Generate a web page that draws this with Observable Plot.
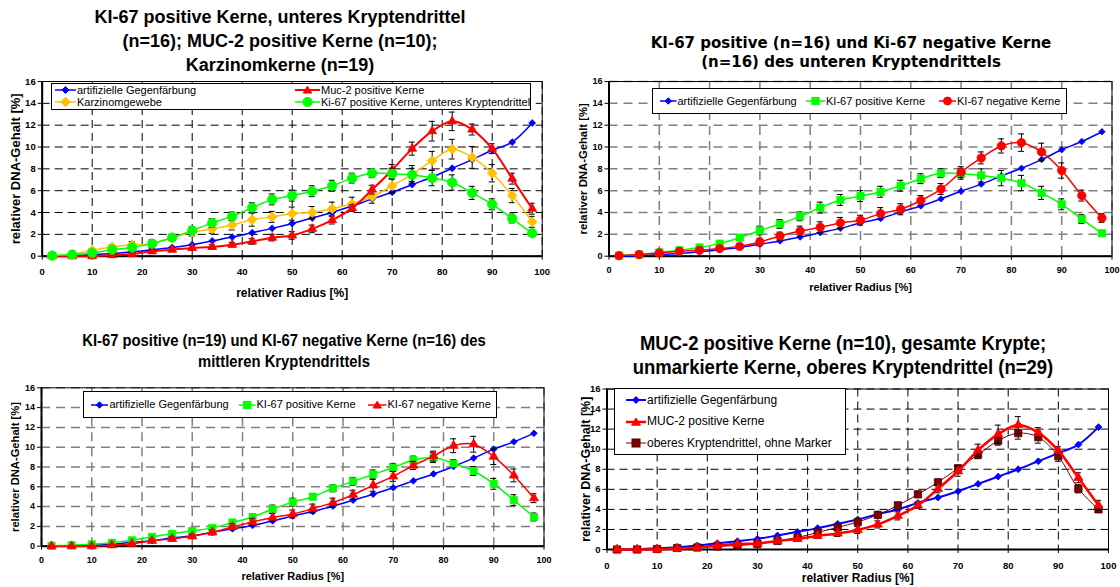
<!DOCTYPE html>
<html><head><meta charset="utf-8">
<script src="https://cdn.jsdelivr.net/npm/d3@7"></script>
<script src="https://cdn.jsdelivr.net/npm/@observablehq/plot@0.6"></script>
<style>
html,body{margin:0;padding:0;background:#fff;}
#root{position:relative;width:1120px;height:587px;overflow:hidden;font-family:"Liberation Sans",Arial,sans-serif;background:#fff;}
.panel{position:absolute;}
.tline{position:absolute;white-space:nowrap;font-weight:bold;color:#000;transform-origin:center;}
.legend{position:absolute;background:#fff;border:1px solid #000;box-sizing:border-box;}
.legend .item{position:absolute;white-space:nowrap;color:#000;}
.legend svg{position:absolute;overflow:visible;}
</style></head><body><div id="root"></div>
<script>
// ---------- data ----------
const radius = [2,6,10,14,18,22,26,30,34,38,42,46,50,54,58,62,66,70,74,78,82,86,90,94,98];
const xTicks = [0,10,20,30,40,50,60,70,80,90,100];
const yTicks = [0,2,4,6,8,10,12,14,16];
const xTitle = "relativer Radius [%]";
const yTitle = "relativer DNA-Gehalt [%]";

// panel 1
const gegen1 = [0,0.05,0.15,0.25,0.4,0.6,0.8,1.05,1.4,1.75,2.15,2.55,3.0,3.5,4.0,4.6,5.25,5.85,6.55,7.25,8.05,8.85,9.7,10.45,12.2];
const karzinom = [0.05,0.15,0.55,0.85,1.05,1.15,1.7,2.2,2.5,2.85,3.35,3.6,3.9,4.0,4.35,4.8,5.45,6.45,7.5,8.75,9.8,9.05,7.6,5.55,3.15];
const karzinomErr = [0.05,0.1,0.15,0.2,0.3,0.35,0.3,0.35,0.4,0.45,0.6,0.5,0.6,0.55,0.6,0.6,0.6,0.65,0.8,0.85,0.9,1.0,0.8,0.65,0.5];
const muc2 = [0,0,0,0.1,0.2,0.45,0.6,0.75,0.85,1.05,1.35,1.7,1.9,2.5,3.3,4.4,6.1,7.9,9.85,11.45,12.35,11.6,9.85,7.1,4.35];
const muc2Err = [0.05,0.05,0.1,0.1,0.15,0.2,0.2,0.2,0.2,0.2,0.25,0.3,0.35,0.35,0.35,0.3,0.4,0.5,0.6,0.9,0.85,0.5,0.45,0.5,0.5];
const ki67posUnten1 = [0.05,0.15,0.3,0.6,0.8,1.15,1.7,2.35,3.05,3.65,4.45,5.2,5.55,5.95,6.45,7.15,7.6,7.55,7.45,7.15,6.75,5.8,4.75,3.45,2.1];
const ki67posUnten1Err = [0.05,0.05,0.1,0.1,0.15,0.2,0.25,0.35,0.4,0.4,0.45,0.5,0.5,0.5,0.5,0.45,0.4,0.5,0.6,0.7,0.7,0.6,0.5,0.4,0.2];

// panel 2
const gegen2 = [0,0.05,0.15,0.25,0.4,0.6,0.8,1.1,1.4,1.75,2.15,2.55,3.05,3.45,4.05,4.6,5.25,5.95,6.6,7.35,8.05,8.85,9.75,10.5,11.4];
const ki67posUnten2 = [0.05,0.15,0.35,0.55,0.8,1.15,1.7,2.35,2.95,3.65,4.45,5.15,5.5,5.9,6.45,7.1,7.6,7.55,7.4,7.15,6.7,5.8,4.75,3.4,2.1];
const ki67posUnten2Err = [0.05,0.05,0.1,0.1,0.15,0.2,0.25,0.4,0.4,0.4,0.5,0.5,0.5,0.5,0.5,0.45,0.4,0.5,0.6,0.7,0.7,0.6,0.5,0.4,0.2];
const ki67negUnten = [0.05,0.15,0.3,0.45,0.55,0.7,0.9,1.3,1.85,2.3,2.65,3.05,3.3,3.9,4.3,5.1,6.15,7.7,9.0,10.1,10.4,9.55,7.85,5.55,3.5];
const ki67negUntenErr = [0.05,0.05,0.1,0.1,0.15,0.2,0.25,0.35,0.35,0.45,0.5,0.5,0.45,0.55,0.5,0.45,0.5,0.5,0.55,0.65,0.8,0.8,0.7,0.5,0.4];

// panel 3
const gegen3 = [0,0.05,0.1,0.2,0.4,0.55,0.85,1.05,1.4,1.75,2.1,2.55,3.05,3.5,4.05,4.65,5.25,5.9,6.6,7.3,8.05,8.9,9.8,10.55,11.4];
const ki67posMitte = [0.05,0.1,0.2,0.35,0.6,0.95,1.25,1.55,1.85,2.4,2.95,3.75,4.45,5.0,5.85,6.55,7.25,7.95,8.7,8.95,8.35,7.6,6.3,4.65,2.95];
const ki67posMitteErr = [0.05,0.05,0.1,0.1,0.15,0.2,0.2,0.2,0.25,0.25,0.3,0.4,0.4,0.3,0.35,0.4,0.45,0.4,0.4,0.5,0.4,0.45,0.55,0.55,0.4];
const ki67negMitte = [0,0,0,0.1,0.25,0.55,0.75,1.0,1.4,1.95,2.45,2.9,3.25,3.8,4.4,5.2,6.15,7.05,8.15,9.1,10.15,10.3,9.05,7.15,4.85];
const ki67negMitteErr = [0.05,0.05,0.05,0.1,0.1,0.15,0.2,0.2,0.25,0.3,0.35,0.4,0.4,0.45,0.45,0.45,0.6,0.5,0.4,0.5,0.7,0.8,0.8,0.65,0.45];

// panel 4
const gegen4 = [0,0.03,0.13,0.23,0.4,0.63,0.83,1.06,1.4,1.76,2.13,2.56,2.99,3.52,3.99,4.65,5.18,5.81,6.54,7.27,8.0,8.8,9.6,10.46,12.2];
const muc2Gesamt = [0,0,0,0.1,0.2,0.4,0.55,0.6,0.85,1.05,1.35,1.6,1.95,2.5,3.35,4.4,6.05,7.8,9.9,11.5,12.4,11.65,9.85,7.15,4.4];
const muc2GesamtErr = [0.05,0.05,0.1,0.1,0.15,0.2,0.2,0.2,0.2,0.2,0.25,0.3,0.35,0.35,0.4,0.3,0.4,0.5,0.6,0.9,0.85,0.5,0.4,0.5,0.5];
const oberesOhne = [0,0,0.05,0.15,0.2,0.3,0.4,0.55,0.85,1.2,1.7,2.2,2.75,3.45,4.4,5.5,6.7,8.1,9.45,10.85,11.6,11.2,9.3,6.05,4.0];
const oberesOhneErr = [0.05,0.05,0.05,0.1,0.1,0.15,0.15,0.2,0.2,0.25,0.25,0.25,0.3,0.3,0.3,0.3,0.3,0.3,0.4,0.45,0.6,0.6,0.5,0.4,0.3];

// ---------- helpers ----------
const root = document.getElementById("root");
const FONT = '"Liberation Sans", Arial, sans-serif';

function rows(values, err) {
  return radius.map((x, i) => ({x, y: values[i], e: err ? err[i] : 0}));
}

function seriesMarks(s) {
  const d = rows(s.values, s.err);
  const m = [];
  if (s.err) {
    m.push(Plot.ruleX(d, {x: "x", y1: q => q.y - q.e, y2: q => q.y + q.e, stroke: "#000", strokeWidth: 1}));
    m.push(Plot.ruleY(d, {y: q => q.y + q.e, x1: q => q.x - 0.6, x2: q => q.x + 0.6, stroke: "#000", strokeWidth: 1}));
    m.push(Plot.ruleY(d, {y: q => q.y - q.e, x1: q => q.x - 0.6, x2: q => q.x + 0.6, stroke: "#000", strokeWidth: 1}));
  }
  m.push(Plot.line(d, {x: "x", y: "y", stroke: s.line || s.color, strokeWidth: s.width, curve: "catmull-rom"}));
  m.push(Plot.dot(d, {x: "x", y: "y", symbol: s.symbol, r: s.r, fill: s.color, stroke: s.edge || s.color, strokeWidth: 0.8}));
  return m;
}

function drawPanel(p) {
  const div = document.createElement("div");
  div.className = "panel";
  div.style.left = p.left + "px";
  div.style.top = p.top + "px";
  div.style.width = p.width + "px";
  div.style.height = p.height + "px";
  const marks = [
    Plot.ruleY(yTicks, {stroke: p.grid, strokeWidth: p.gridWidth, strokeDasharray: p.dash}),
    Plot.ruleX(xTicks, {stroke: p.grid, strokeWidth: p.gridWidth, strokeDasharray: p.dash}),
    Plot.frame({stroke: "#000", strokeWidth: 1}),
    Plot.ruleX([0], {stroke: "#000", strokeWidth: 2}),
    Plot.ruleY([0], {stroke: "#000", strokeWidth: 2}),
    Plot.text([xTitle], {text: d => d, frameAnchor: "bottom", textAnchor: "middle", lineAnchor: "middle", dy: p.xTitleDy, fontSize: p.xTitleSize, fontWeight: "bold", fill: "#000"}),
    Plot.text([yTitle], {text: d => d, frameAnchor: "left", textAnchor: "middle", lineAnchor: "middle", dx: p.yTitleDx, rotate: -90, fontSize: p.yTitleSize, fontWeight: "bold", fill: "#000"})
  ];
  for (const s of p.series) marks.push(...seriesMarks(s));
  const chart = Plot.plot({
    width: p.width, height: p.height,
    marginLeft: p.ml, marginRight: p.mr, marginTop: p.mt, marginBottom: p.mb,
    x: {domain: [0, 100], ticks: xTicks, tickSize: 4, tickPadding: p.xPad, label: null},
    y: {domain: [0, 16], ticks: yTicks, tickSize: 4, tickPadding: 2.5, label: null},
    style: {fontFamily: FONT, fontSize: p.tickSize + "px", fontWeight: "bold", background: "none", color: "#000", overflow: "visible"},
    marks
  });
  div.appendChild(chart);
  root.appendChild(div);
}

function swatch(item, w) {
  const c = item.color, cy = 6, cx = w / 2;
  let shape = "";
  const r = item.mr;
  if (item.symbol === "diamond2") shape = `<polygon points="${cx},${cy-r} ${cx+r},${cy} ${cx},${cy+r} ${cx-r},${cy}" fill="${c}" stroke="${item.edge||c}"/>`;
  else if (item.symbol === "triangle") shape = `<polygon points="${cx},${cy-r} ${cx+r*1.1},${cy+r*0.8} ${cx-r*1.1},${cy+r*0.8}" fill="${c}" stroke="${item.edge||c}"/>`;
  else if (item.symbol === "circle") shape = `<circle cx="${cx}" cy="${cy}" r="${r}" fill="${c}" stroke="${item.edge||c}"/>`;
  else shape = `<rect x="${cx-r}" y="${cy-r}" width="${2*r}" height="${2*r}" fill="${c}" stroke="${item.edge||c}"/>`;
  return `<line x1="0" y1="${cy}" x2="${w}" y2="${cy}" stroke="${item.line||c}" stroke-width="${item.lw}"/>` + shape;
}

function drawLegend(L) {
  const box = document.createElement("div");
  box.className = "legend";
  box.style.left = L.x0 + "px"; box.style.top = L.y0 + "px";
  box.style.width = (L.x1 - L.x0) + "px"; box.style.height = (L.y1 - L.y0) + "px";
  box.style.fontSize = L.fontSize + "px";
  for (const it of L.items) {
    const w = it.tx - it.sx - 1;
    const svg = document.createElementNS("http://www.w3.org/2000/svg", "svg");
    svg.setAttribute("width", w); svg.setAttribute("height", 12);
    svg.style.left = (it.sx - L.x0 - 1) + "px";
    svg.style.top = (it.cy - L.y0 - 1 - 6) + "px";
    svg.innerHTML = swatch(it, w);
    box.appendChild(svg);
    const t = document.createElement("div");
    t.className = "item";
    t.textContent = it.label;
    t.style.left = (it.tx - L.x0 - 1) + "px";
    t.style.top = (it.cy - L.y0 - 1 - L.fontSize * 0.6) + "px";
    t.style.lineHeight = (L.fontSize * 1.2) + "px";
    box.appendChild(t);
  }
  root.appendChild(box);
}

function drawTitle(T) {
  T.lines.forEach((line, i) => {
    const d = document.createElement("div");
    d.className = "tline";
    d.textContent = line;
    d.style.fontFamily = T.font;
    d.style.fontSize = T.size + "px";
    d.style.lineHeight = T.lh + "px";
    d.style.left = T.cx + "px";
    d.style.top = (T.ys[i] - T.lh / 2) + "px";
    d.style.transform = `translateX(-50%) scaleX(${T.k})`;
    root.appendChild(d);
  });
}

// ---------- panels ----------
const BLUE = "#0000ff", RED = "#ff0000", YEL = "#ffc000", GRN = "#00ff00", DRED = "#800000";

drawPanel({left: 0, top: 70, width: 560, height: 240, ml: 41.7, mr: 18.3, mt: 11, mb: 54.3,
  grid: "#000", gridWidth: 1, dash: "8,5", tickSize: 9.5, xPad: 7.6,
  xTitleDy: 37.3, xTitleSize: 12, yTitleDx: -26.7, yTitleSize: 13,
  series: [
    {values: gegen1, color: BLUE, symbol: "diamond2", r: 3.1, width: 1.5},
    {values: karzinom, err: karzinomErr, color: YEL, symbol: "diamond2", r: 4.4, width: 1.5},
    {values: muc2, err: muc2Err, color: RED, symbol: "triangle", r: 3.3, width: 2},
    {values: ki67posUnten1, err: ki67posUnten1Err, color: GRN, symbol: "circle", r: 4.7, width: 1.5}
  ]});

drawPanel({left: 560, top: 70, width: 560, height: 240, ml: 48.5, mr: 8.5, mt: 11, mb: 54.3,
  grid: "#808080", gridWidth: 1.5, dash: "9,6", tickSize: 9, xPad: 6.9,
  xTitleDy: 31, xTitleSize: 11, yTitleDx: -25.2, yTitleSize: 11.3,
  series: [
    {values: gegen2, color: BLUE, symbol: "diamond2", r: 2.9, width: 1.5},
    {values: ki67posUnten2, err: ki67posUnten2Err, color: GRN, symbol: "square", r: 4.1, width: 1.5},
    {values: ki67negUnten, err: ki67negUntenErr, color: RED, symbol: "circle", r: 4.2, width: 1.5}
  ]});

drawPanel({left: 0, top: 375, width: 560, height: 212, ml: 41, mr: 16.5, mt: 12.3, mb: 41.3,
  grid: "#808080", gridWidth: 1.5, dash: "9,6", tickSize: 9, xPad: 6.2,
  xTitleDy: 30.3, xTitleSize: 11, yTitleDx: -26, yTitleSize: 11.2,
  series: [
    {values: gegen3, color: BLUE, symbol: "diamond2", r: 3, width: 1.5},
    {values: ki67posMitte, err: ki67posMitteErr, color: GRN, symbol: "square", r: 4, width: 1.5},
    {values: ki67negMitte, err: ki67negMitteErr, color: RED, symbol: "triangle", r: 3.4, width: 1.5}
  ]});

drawPanel({left: 560, top: 375, width: 560, height: 212, ml: 46.5, mr: 12, mt: 13.5, mb: 38,
  grid: "#000", gridWidth: 1, dash: "8,5", tickSize: 9.5, xPad: 8.5,
  xTitleDy: 29, xTitleSize: 12, yTitleDx: -21.5, yTitleSize: 12.5,
  series: [
    {values: gegen4, color: BLUE, symbol: "diamond2", r: 3.1, width: 2},
    {values: oberesOhne, err: oberesOhneErr, color: DRED, edge: "#4a0000", symbol: "square", r: 4.1, width: 1},
    {values: muc2Gesamt, err: muc2GesamtErr, color: RED, symbol: "triangle", r: 3.4, width: 2.5}
  ]});

// ---------- legends ----------
drawLegend({x0: 50.7, y0: 82.7, x1: 530.7, y1: 110, fontSize: 11, items: [
  {label: "artifizielle Gegenfärbung", color: BLUE, symbol: "diamond2", mr: 3.5, lw: 1.5, sx: 55, tx: 77, cy: 90.5},
  {label: "Muc-2 positive Kerne", color: RED, symbol: "triangle", mr: 3.8, lw: 2, sx: 295, tx: 321, cy: 90.5},
  {label: "Karzinomgewebe", color: YEL, symbol: "diamond2", mr: 4.8, lw: 1.5, sx: 55, tx: 77, cy: 102.5},
  {label: "Ki-67 positive Kerne, unteres Kryptendrittel", color: GRN, symbol: "circle", mr: 4.6, lw: 1.5, sx: 295, tx: 321, cy: 102.5}
]});

drawLegend({x0: 651.7, y0: 87.7, x1: 1066.7, y1: 114.3, fontSize: 11, items: [
  {label: "artifizielle Gegenfärbung", color: BLUE, symbol: "diamond2", mr: 3.2, lw: 1.5, sx: 660, tx: 677.5, cy: 101.5},
  {label: "KI-67 positive Kerne", color: GRN, symbol: "square", mr: 3.6, lw: 1.5, sx: 806, tx: 826, cy: 101.5},
  {label: "KI-67 negative Kerne", color: RED, symbol: "circle", mr: 4, lw: 1.5, sx: 939, tx: 957, cy: 101.5}
]});

drawLegend({x0: 83.3, y0: 390.7, x1: 497.5, y1: 418.3, fontSize: 11, items: [
  {label: "artifizielle Gegenfärbung", color: BLUE, symbol: "diamond2", mr: 3.2, lw: 1.5, sx: 91.5, tx: 109.5, cy: 405},
  {label: "KI-67 positive Kerne", color: GRN, symbol: "square", mr: 3.6, lw: 1.5, sx: 239, tx: 256.5, cy: 405},
  {label: "KI-67 negative Kerne", color: RED, symbol: "triangle", mr: 3.8, lw: 1.5, sx: 368, tx: 387.5, cy: 405}
]});

drawLegend({x0: 614.3, y0: 388.3, x1: 845.7, y1: 455, fontSize: 12, items: [
  {label: "artifizielle Gegenfärbung", color: BLUE, symbol: "diamond2", mr: 3.5, lw: 2, sx: 626, tx: 647, cy: 400},
  {label: " MUC-2 positive Kerne", color: RED, symbol: "triangle", mr: 4, lw: 2.5, sx: 626, tx: 647, cy: 421.7},
  {label: "oberes Kryptendrittel, ohne Marker", color: DRED, edge: "#4a0000", symbol: "square", mr: 4, lw: 1, sx: 626, tx: 647, cy: 443.3}
]});

// ---------- titles ----------
drawTitle({lines: ["KI-67 positive Kerne, unteres Kryptendrittel", "(n=16); MUC-2 positive Kerne (n=10);", "Karzinomkerne (n=19)"],
  font: FONT, size: 18, lh: 24, cx: 280, ys: [17, 41, 65], k: 1});
drawTitle({lines: ["KI-67 positive (n=16) und Ki-67 negative Kerne", "(n=16) des unteren Kryptendrittels"],
  font: '"DejaVu Sans", Verdana, sans-serif', size: 15, lh: 20, cx: 851, ys: [43, 62], k: 1});
drawTitle({lines: ["KI-67 positive (n=19) und KI-67 negative Kerne (n=16) des", "mittleren Kryptendrittels"],
  font: FONT, size: 17, lh: 21, cx: 284, ys: [340, 361], k: 0.87});
drawTitle({lines: ["MUC-2 positive Kerne (n=10), gesamte Krypte;", "unmarkierte Kerne, oberes Kryptendrittel (n=29)"],
  font: FONT, size: 21, lh: 24, cx: 843, ys: [343, 367], k: 0.88});
</script>
</body></html>
